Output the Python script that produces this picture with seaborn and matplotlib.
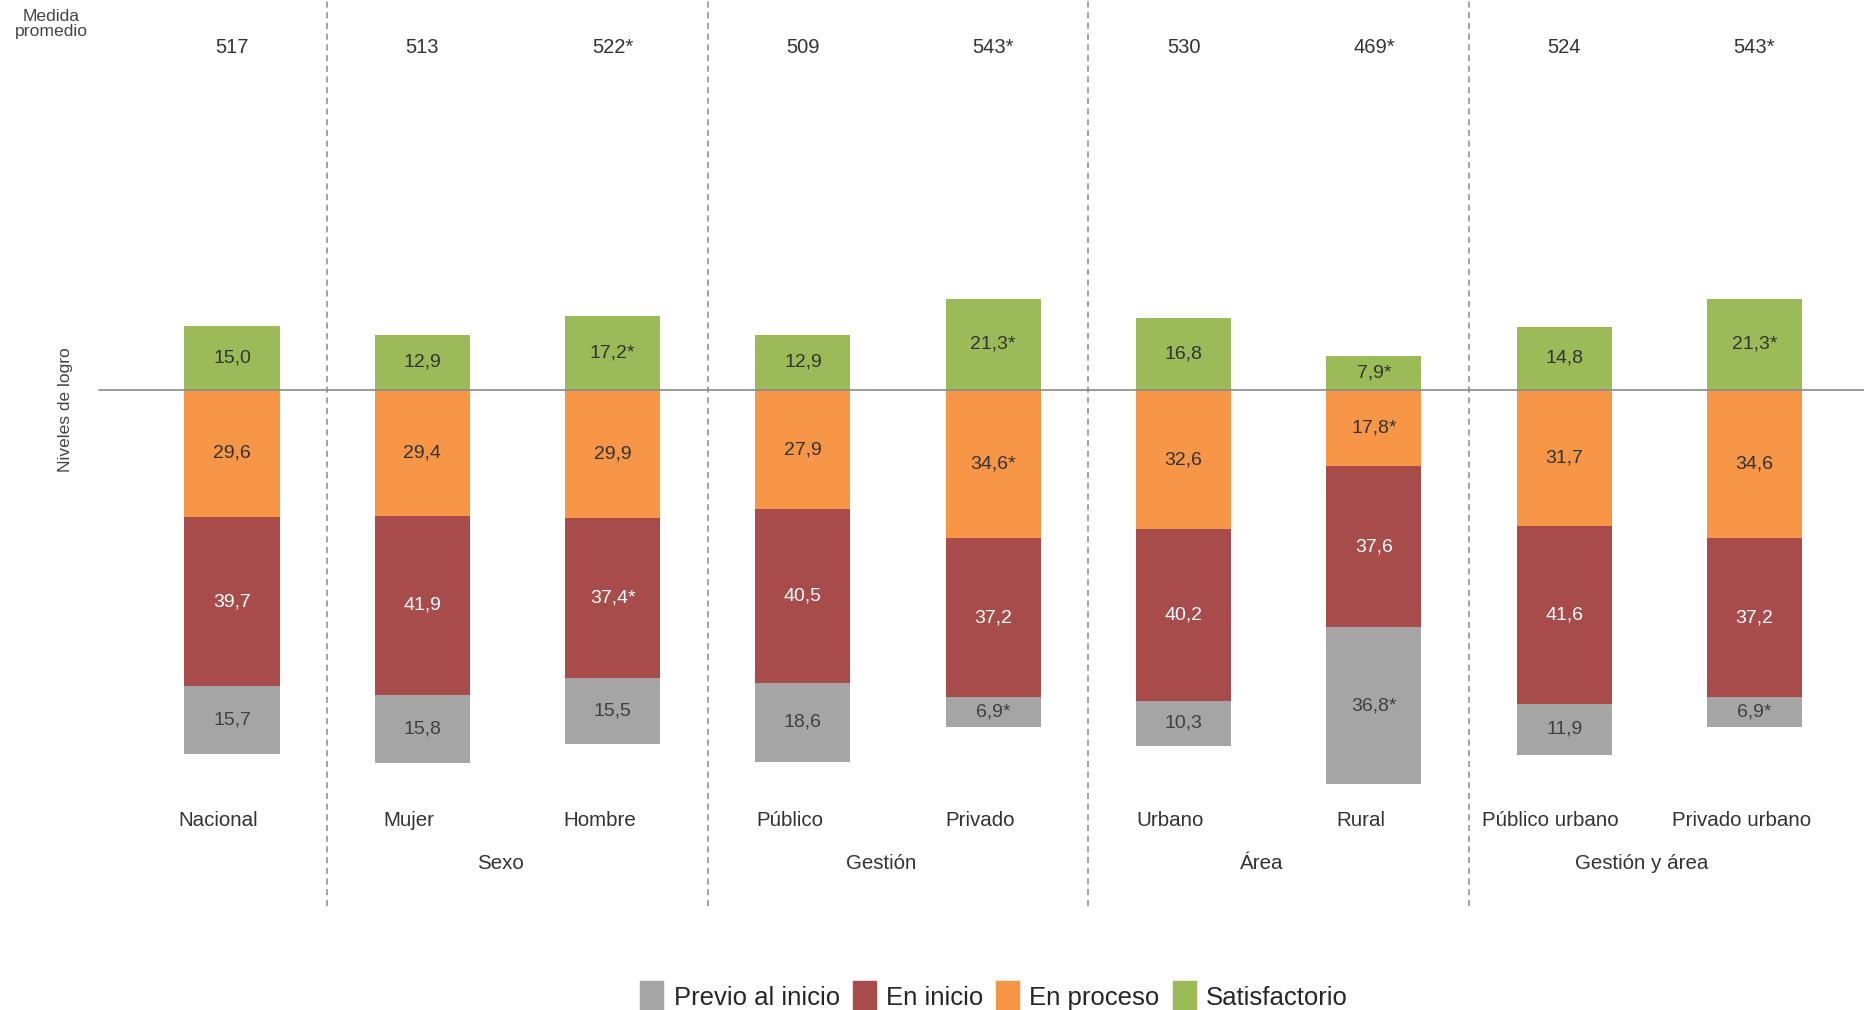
import matplotlib
matplotlib.use("Agg")
import matplotlib.pyplot as plt
from matplotlib.patches import Patch
import seaborn as sns
import pandas as pd

categorias = ["Nacional", "Mujer", "Hombre", "Público", "Privado",
              "Urbano", "Rural", "Público urbano", "Privado urbano"]
grupos = ["Sexo", "Gestión", "Área", "Gestión y área"]
grupo_pos = [1.5, 3.5, 5.5, 7.5]
separadores = [0.5, 2.5, 4.5, 6.5]

medida = [517, 513, 522, 509, 543, 530, 469, 524, 543]
medida_sig = [0, 0, 1, 0, 1, 0, 1, 0, 1]

satisfactorio = [15.0, 12.9, 17.2, 12.9, 21.3, 16.8, 7.9, 14.8, 21.3]
sat_sig = [0, 0, 1, 0, 1, 0, 1, 0, 1]
en_proceso = [29.6, 29.4, 29.9, 27.9, 34.6, 32.6, 17.8, 31.7, 34.6]
proc_sig = [0, 0, 0, 0, 1, 0, 1, 0, 0]
en_inicio = [39.7, 41.9, 37.4, 40.5, 37.2, 40.2, 37.6, 41.6, 37.2]
ini_sig = [0, 0, 1, 0, 0, 0, 0, 0, 0]
previo = [15.7, 15.8, 15.5, 18.6, 6.9, 10.3, 36.8, 11.9, 6.9]
prev_sig = [0, 0, 0, 0, 1, 0, 1, 0, 1]

colores = {"Previo al inicio": "#A5A5A5", "En inicio": "#A84B4B",
           "En proceso": "#F79646", "Satisfactorio": "#9BBB59"}

sns.set_theme(style="white")
plt.rcParams["font.family"] = ["Liberation Sans", "DejaVu Sans"]

df = pd.DataFrame({"cat": categorias, "sat": satisfactorio, "proc": en_proceso,
                   "ini": en_inicio, "prev": previo})
df["b_proc"] = -df["proc"]
df["b_ini"] = df["b_proc"] - df["ini"]
df["b_prev"] = df["b_ini"] - df["prev"]

fig = plt.figure(figsize=(18.65, 10.1), dpi=100)
ax = fig.add_axes([0, 0, 1, 1])

# stacked below zero by overlapping, outermost first
kw = dict(x="cat", width=0.5, saturation=1, linewidth=0, edgecolor="none", ax=ax)
sns.barplot(data=df, y="b_prev", color=colores["Previo al inicio"], **kw)
sns.barplot(data=df, y="b_ini", color=colores["En inicio"], **kw)
sns.barplot(data=df, y="b_proc", color=colores["En proceso"], **kw)
sns.barplot(data=df, y="sat", color=colores["Satisfactorio"], **kw)


def fmt(v, s):
    return f"{v:.1f}".replace(".", ",") + ("*" if s else "")


for i in range(len(categorias)):
    ax.text(i, satisfactorio[i] / 2, fmt(satisfactorio[i], sat_sig[i]), ha="center", va="center",
            fontsize=14, color="#333333")
    ax.text(i, -en_proceso[i] / 2, fmt(en_proceso[i], proc_sig[i]), ha="center", va="center",
            fontsize=14, color="#333333")
    ax.text(i, df["b_proc"][i] - en_inicio[i] / 2, fmt(en_inicio[i], ini_sig[i]), ha="center",
            va="center", fontsize=14, color="white")
    ax.text(i, df["b_ini"][i] - previo[i] / 2, fmt(previo[i], prev_sig[i]), ha="center",
            va="center", fontsize=14, color="#404040")
    ax.text(i, 80, str(medida[i]) + ("*" if medida_sig[i] else ""), ha="center", va="center",
            fontsize=14.5, color="#333333")
    ax.text(i - 0.07, -100.6, categorias[i], ha="center", va="center", fontsize=14.8, color="#333333")

for g, p in zip(grupos, grupo_pos):
    ax.text(p - 0.09, -110.6, g, ha="center", va="center", fontsize=14.8, color="#333333")

ax.vlines(separadores, -120.5, 92, colors="#8a8a8a", linewidth=1.1, linestyles=(0, (4, 3)))
ax.plot([-0.70, 9], [0, 0], color="#8a8a8a", linewidth=1.2)

ax.set_xlim(-1.219, 8.581)
ax.set_ylim(-144.9, 91.1)
ax.set_xlabel("")
ax.set_ylabel("")
ax.set_xticks([])
ax.set_yticks([])
for s in ax.spines.values():
    s.set_visible(False)

fig.text(0.0275, 0.976, "Medida\npromedio", ha="center", va="center", fontsize=12.6,
         color="#444444", linespacing=1.0)
fig.text(0.035, 0.594, "Niveles de logro", rotation=90, ha="center", va="center",
         fontsize=12.5, color="#444444")

handles = [Patch(color=colores[k]) for k in colores]
fig.legend(handles, list(colores.keys()), loc="center", bbox_to_anchor=(0.533, 0.013),
           ncol=4, frameon=False, fontsize=18.5, handlelength=0.9, handleheight=1.5,
           handletextpad=0.4, columnspacing=0.5, borderaxespad=0)

fig.savefig("out.png", dpi=100)
